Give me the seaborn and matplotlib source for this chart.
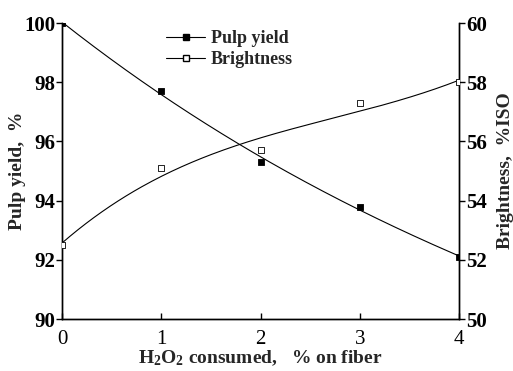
import numpy as np
import pandas as pd
import matplotlib
matplotlib.use("Agg")
import matplotlib.pyplot as plt
import seaborn as sns
from matplotlib.lines import Line2D

h2o2 = [0, 1, 2, 3, 4]
pulp_yield = [100.0, 97.7, 95.3, 93.8, 92.1]
brightness = [52.5, 55.1, 55.7, 57.3, 58.0]

sns.set_theme(style="white")
plt.rcParams['font.family'] = ['Liberation Serif', 'DejaVu Serif']
plt.rcParams['mathtext.fontset'] = 'custom'
plt.rcParams['mathtext.rm'] = 'Liberation Serif:bold'
plt.rcParams['mathtext.it'] = 'Liberation Serif:bold'
plt.rcParams['mathtext.bf'] = 'Liberation Serif:bold'

fig = plt.figure(figsize=(5.13, 3.71), dpi=100)
ax = fig.add_axes([0.121, 0.140, 0.774, 0.798])
ax2 = ax.twinx()

# smooth fitted curves
xs = np.linspace(0, 4, 200)
cy = np.polyval(np.polyfit(h2o2, pulp_yield, 3), xs)
cb = np.polyval(np.polyfit(h2o2, brightness, 3), xs)

sns.lineplot(x=xs, y=cy, ax=ax, color='black', lw=0.8)
sns.scatterplot(x=h2o2, y=pulp_yield, ax=ax, marker='s', s=18, color='black',
                edgecolor='black', linewidth=0.6, zorder=5)
sns.lineplot(x=xs, y=cb, ax=ax2, color='black', lw=0.8)
sns.scatterplot(x=h2o2, y=brightness, ax=ax2, marker='s', s=18, color='white',
                edgecolor='black', linewidth=0.6, zorder=5)

ax.set_xlim(0, 4)
ax.set_ylim(90, 100)
ax2.set_ylim(50, 60)
ax.set_xticks([0, 1, 2, 3, 4])
ax.set_yticks([90, 92, 94, 96, 98, 100])
ax2.set_yticks([50, 52, 54, 56, 58, 60])

for a in (ax, ax2):
    a.spines['top'].set_visible(False)
    for s in a.spines.values():
        s.set_color('black')
        s.set_linewidth(1.0)

ax.tick_params(axis='y', direction='out', length=4, width=1, colors='black',
               labelsize=15, left=True, pad=1)
ax.tick_params(axis='x', direction='in', length=4, width=1, colors='black',
               labelsize=15, bottom=True, pad=8)
ax2.tick_params(axis='y', direction='out', length=4, width=1, colors='black',
                labelsize=15, right=True, pad=1)
for lab in ax.get_yticklabels() + ax2.get_yticklabels():
    lab.set_fontweight('bold')

ax.set_ylabel('Pulp yield,  %', fontsize=14, fontweight='bold')
ax.yaxis.set_label_coords(-0.09, 0.5)
ax2.set_ylabel('Brightness,  %ISO', fontsize=14, fontweight='bold')
ax2.yaxis.set_label_coords(1.095, 0.5)
ax.set_xlabel(r'H$_2$O$_2$ consumed,   % on fiber', fontsize=14, fontweight='bold')
ax.xaxis.set_label_coords(0.5, -0.098)

handles = [
    Line2D([0], [0], color='black', lw=0.8, marker='s', markersize=4,
           markerfacecolor='black', markeredgecolor='black'),
    Line2D([0], [0], color='black', lw=0.8, marker='s', markersize=4,
           markerfacecolor='white', markeredgecolor='black'),
]
ax.legend(handles, ['Pulp yield', 'Brightness'], loc='upper left',
          bbox_to_anchor=(0.22, 1.03), frameon=False, handlelength=2.2,
          handletextpad=0.3, labelspacing=0.2, prop={'weight': 'bold', 'size': 13})

fig.savefig('out.png', dpi=100)
